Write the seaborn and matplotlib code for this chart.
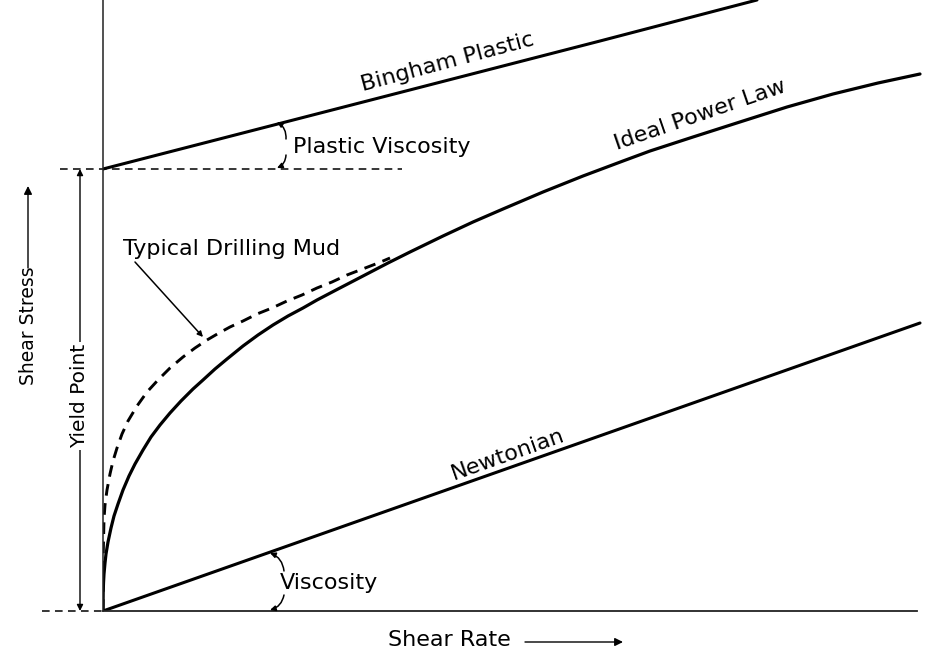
import matplotlib
matplotlib.use('Agg')
import matplotlib.pyplot as plt
import seaborn as sns

# curve points (arbitrary units: shear rate vs shear stress)
power_rate = [0, 0.2, 0.5, 1, 2, 3, 5, 8, 11, 15, 20, 26, 32, 40, 48, 57, 67, 78, 90,
              100, 112, 124, 140, 155, 170, 185, 200, 214, 235, 260, 285, 307, 340,
              370, 400, 440, 480, 520, 547, 590, 640, 684, 730, 775, 817]
power_stress = [0, 19, 28, 37, 48, 57, 69, 83, 95, 107, 121, 135, 147, 161, 174, 186,
                198, 210, 222, 231, 242, 252, 265, 276, 286, 295, 303, 311, 322, 335,
                348, 359, 375, 389, 402, 419, 435, 450, 460, 474, 490, 504, 517, 528, 537]

mud_rate = [0, 0.3, 1, 2, 4, 7, 10, 14, 19, 25, 34, 44, 55, 67, 80, 92, 104, 116, 127,
            140, 154, 169, 184, 199, 214, 229, 244, 257, 270, 280, 287]
mud_stress = [0, 60, 92, 106, 121, 137, 150, 163, 177, 190, 205, 219, 231, 243, 254,
              263, 271, 278, 284, 290, 297, 303, 310, 316, 323, 329, 336, 341, 346, 350, 353]

bingham_rate = [0, 497, 654]
bingham_stress = [442, 570, 611]

newton_rate = [0, 817]
newton_stress = [0, 288]

yield_point = 442
yield_line_rate = [-43, 299]
axis_ext_rate = [-61, 0]

sns.set_theme(style='white')
plt.rcParams['font.family'] = ['DejaVu Sans']
plt.rcParams['text.color'] = 'black'

fig = plt.figure(figsize=(9.43, 6.5), dpi=100)
ax = fig.add_axes([103 / 943, 39 / 650, 840 / 943, 611 / 650])
ax.set_xlim(0, 840)
ax.set_ylim(0, 611)

# curves
sns.lineplot(x=power_rate, y=power_stress, ax=ax, color='black', linewidth=2.3,
             estimator=None, sort=False)
sns.lineplot(x=mud_rate, y=mud_stress, ax=ax, color='black', linewidth=2.1,
             linestyle=(0, (4, 2.6)), estimator=None, sort=False)
sns.lineplot(x=bingham_rate, y=bingham_stress, ax=ax, color='black', linewidth=2.2,
             estimator=None, sort=False)
sns.lineplot(x=newton_rate, y=newton_stress, ax=ax, color='black', linewidth=2.2,
             estimator=None, sort=False)

# yield point dashed level and axis extension
ax.plot(yield_line_rate, [yield_point, yield_point], color='black', lw=1.1,
        linestyle=(0, (5, 3.5)), clip_on=False)
ax.plot(axis_ext_rate, [0, 0], color='black', lw=1.1,
        linestyle=(0, (5, 3.5)), clip_on=False)

# axes
for s in ['top', 'right']:
    ax.spines[s].set_visible(False)
ax.spines['left'].set_linewidth(1.1)
ax.spines['bottom'].set_linewidth(1.3)
ax.spines['left'].set_color('#222222')
ax.spines['bottom'].set_color('#222222')
ax.spines['bottom'].set_bounds(0, 814)
ax.set_xticks([])
ax.set_yticks([])

fs = 16
# curve labels
ax.text(345, 549, 'Bingham Plastic', fontsize=fs, rotation=15,
        ha='center', va='center', rotation_mode='anchor')
ax.text(597, 496, 'Ideal Power Law', fontsize=fs, rotation=19,
        ha='center', va='center', rotation_mode='anchor')
ax.text(405, 156, 'Newtonian', fontsize=fs, rotation=19.5,
        ha='center', va='center', rotation_mode='anchor')

# typical drilling mud pointer
ax.text(20, 362, 'Typical Drilling Mud', fontsize=fs, ha='left', va='center')
ax.annotate('', xy=(100, 274), xytext=(32, 349),
            arrowprops=dict(arrowstyle='-|>', color='black', lw=1.1,
                            mutation_scale=8, shrinkA=0, shrinkB=0))

# plastic viscosity angle
ax.text(190, 464, 'Plastic Viscosity', fontsize=fs, ha='left', va='center')
ax.annotate('', xy=(174, 489), xytext=(183, 472),
            arrowprops=dict(arrowstyle='-|>', color='black', lw=1.1, mutation_scale=8,
                            connectionstyle='arc3,rad=0.3', shrinkA=0, shrinkB=0))
ax.annotate('', xy=(174, 443), xytext=(183, 456),
            arrowprops=dict(arrowstyle='-|>', color='black', lw=1.1, mutation_scale=8,
                            connectionstyle='arc3,rad=-0.3', shrinkA=0, shrinkB=0))

# viscosity angle
ax.text(177, 28, 'Viscosity', fontsize=fs, ha='left', va='center')
ax.annotate('', xy=(167, 58), xytext=(181, 40),
            arrowprops=dict(arrowstyle='-|>', color='black', lw=1.1, mutation_scale=8,
                            connectionstyle='arc3,rad=0.3', shrinkA=0, shrinkB=0))
ax.annotate('', xy=(167, 1), xytext=(181, 16),
            arrowprops=dict(arrowstyle='-|>', color='black', lw=1.1, mutation_scale=8,
                            connectionstyle='arc3,rad=-0.3', shrinkA=0, shrinkB=0))

# yield point dimension arrow
ax.annotate('', xy=(-23, yield_point), xytext=(-23, 0), annotation_clip=False,
            arrowprops=dict(arrowstyle='<|-|>', color='black', lw=1.0,
                            mutation_scale=9, shrinkA=0, shrinkB=0))
ax.text(-23, 215, 'Yield Point', fontsize=14.5, rotation=90, ha='center', va='center',
        bbox=dict(facecolor='white', edgecolor='none', pad=1))

# axis titles with arrows
ax.text(-75, 285, 'Shear Stress', fontsize=13.5, rotation=90, ha='center', va='center')
ax.annotate('', xy=(-75, 425), xytext=(-75, 343), annotation_clip=False,
            arrowprops=dict(arrowstyle='-|>', color='black', lw=1.0,
                            mutation_scale=12, shrinkA=0, shrinkB=0))
ax.text(346, -29, 'Shear Rate', fontsize=fs, ha='center', va='center')
ax.annotate('', xy=(520, -31), xytext=(422, -31), annotation_clip=False,
            arrowprops=dict(arrowstyle='-|>', color='black', lw=1.0,
                            mutation_scale=12, shrinkA=0, shrinkB=0))

fig.savefig('out.png', dpi=100, facecolor='white')
plt.close()
